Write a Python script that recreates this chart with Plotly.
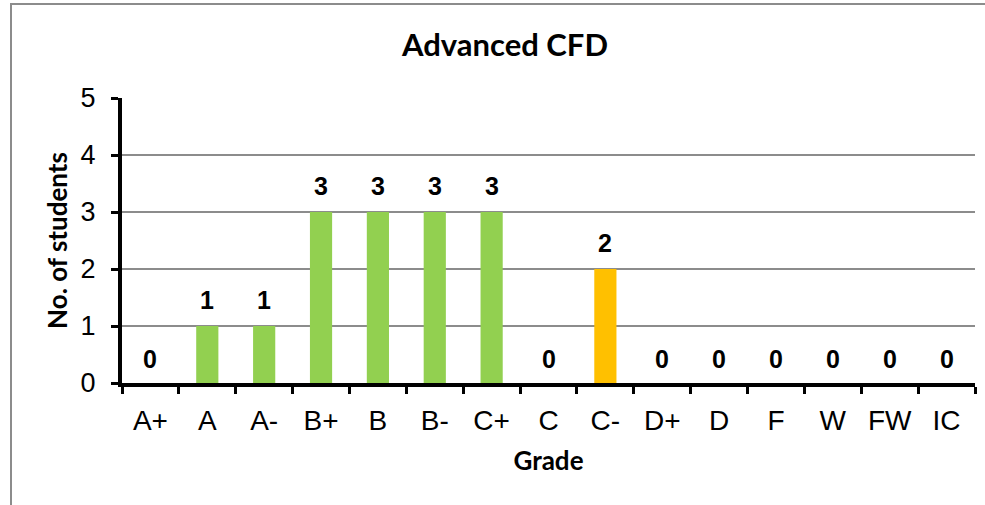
import plotly.graph_objects as go

grades = ["A+", "A", "A-", "B+", "B", "B-", "C+", "C", "C-", "D+", "D", "F", "W", "FW", "IC"]
students = [0, 1, 1, 3, 3, 3, 3, 0, 2, 0, 0, 0, 0, 0, 0]
highlight_grade = "C-"
title_text = "Advanced CFD"
x_title = "Grade"
y_title = "No. of students"

GREEN = "#92D050"
ORANGE = "#FFC000"
colors = [ORANGE if g == highlight_grade else GREEN for g in grades]

W, H = 985, 505
L, R, T, B = 122, 10, 98, 122
pw, ph = W - L - R, H - T - B

ARIAL = "Liberation Sans, Arial, sans-serif"
CALIBRI = "Lato, Carlito, Calibri, sans-serif"

fig = go.Figure()
fig.add_trace(go.Bar(
    x=grades, y=students, marker=dict(color=colors, line=dict(width=0)),
    width=0.39, hoverinfo="x+y",
))

for g, v in zip(grades, students):
    fig.add_annotation(
        x=g, y=v, text="<b>" + str(v) + "</b>", showarrow=False, yanchor="bottom",
        yshift=10 if v > 0 else 8,
        font=dict(family=ARIAL, size=25, color="black"),
    )

# outer chart border
fig.add_shape(
    type="rect", xref="paper", yref="paper",
    x0=(11 - L) / pw, x1=(995 - L) / pw,
    y0=-(515 - (H - B)) / ph, y1=((H - B) - 4) / ph,
    line=dict(color="#8C8C8C", width=2), fillcolor="rgba(0,0,0,0)", layer="below",
)

fig.update_layout(
    width=W, height=H,
    margin=dict(l=L, r=R, t=T, b=B),
    paper_bgcolor="white", plot_bgcolor="white",
    showlegend=False,
    title=dict(
        text="<b>" + title_text + "</b>", x=(505 - L) / pw, xref="paper", xanchor="center",
        y=1 - 45 / H, yref="container", yanchor="middle",
        font=dict(family=CALIBRI, size=31, color="black"),
    ),
    font=dict(family=ARIAL, color="black"),
    bargap=0.61,
)

fig.update_xaxes(
    type="category", showline=True, linecolor="black", linewidth=4,
    ticks="outside", tickson="boundaries", ticklen=7, tickwidth=3, tickcolor="black",
    ticklabelstandoff=9,
    tickfont=dict(size=28, family=ARIAL, color="black"),
    title=dict(text="<b>" + x_title + "</b>", standoff=18,
               font=dict(size=26, family=CALIBRI, color="black")),
    showgrid=False, zeroline=False, fixedrange=True,
)
fig.update_yaxes(
    range=[0, 5], dtick=1, showline=True, linecolor="black", linewidth=4,
    ticks="outside", ticklen=7, tickwidth=3, tickcolor="black",
    ticklabelstandoff=10,
    tickfont=dict(size=27, family=ARIAL, color="black"),
    showgrid=True, gridcolor="#8C8C8C", gridwidth=1.5, zeroline=False,
    title=dict(text="<b>" + y_title + "</b>", standoff=6,
               font=dict(size=26, family=CALIBRI, color="black")),
    fixedrange=True,
)

fig.write_html("out.html", config={"displayModeBar": False},
               post_script="document.body.style.margin='0px';")
